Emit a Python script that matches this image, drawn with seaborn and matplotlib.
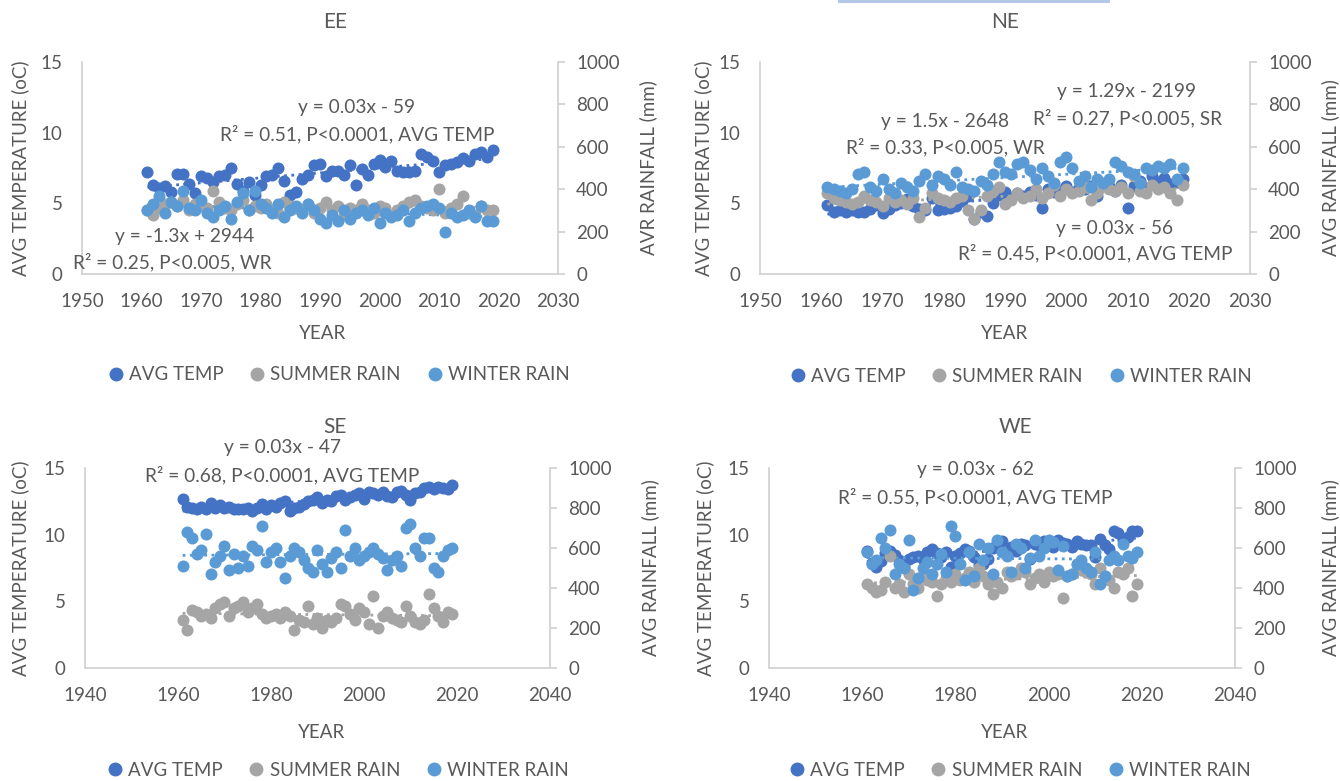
import numpy as np
import pandas as pd
import matplotlib
matplotlib.use("Agg")
import matplotlib.pyplot as plt
from matplotlib.lines import Line2D
from matplotlib.patches import Rectangle
import seaborn as sns

sns.set_theme(style="white")
plt.rcParams['font.family'] = ['Lato', 'DejaVu Sans']

years = list(range(1961, 2020))

# ---------------- EE ----------------
ee_temp = [7.2, 6.3, 6.1, 6.2, 5.8, 7.1, 7.1, 6.4, 5.7, 6.9, 6.8, 6.5, 6.9, 7.0, 7.5, 6.4, 5.9, 6.5, 5.6, 6.3,
           6.9, 7.0, 7.5, 6.6, 5.6, 5.8, 6.7, 7.0, 7.7, 7.8, 6.9, 7.3, 7.3, 7.0, 7.7, 6.3, 7.4, 7.0, 7.8, 8.1,
           7.6, 8.0, 7.3, 7.2, 7.2, 7.3, 8.5, 8.3, 8.0, 7.2, 7.7, 7.8, 7.9, 8.2, 8.0, 8.5, 8.6, 8.3, 8.8]
ee_summer = [300, 280, 310, 330, 340, 320, 350, 300, 330, 320, 310, 390, 340, 310, 300, 330, 350, 300, 320, 310,
             330, 300, 290, 340, 320, 310, 300, 330, 290, 310, 340, 300, 320, 280, 310, 300, 330, 300, 290, 320,
             310, 280, 300, 320, 340, 350, 320, 310, 300, 400, 290, 310, 330, 370, 290, 280, 320, 300, 300]
ee_winter = [300, 330, 370, 290, 340, 320, 390, 310, 300, 350, 290, 270, 300, 320, 260, 340, 380, 300, 390, 330,
             310, 290, 330, 270, 300, 320, 290, 330, 300, 260, 240, 280, 250, 300, 260, 290, 300, 280, 310, 240,
             290, 270, 280, 300, 250, 290, 310, 320, 330, 310, 200, 290, 270, 280, 300, 270, 320, 250, 250]

# ---------------- NE ----------------
ne_temp = [4.9, 4.4, 4.5, 4.4, 4.5, 4.4, 4.4, 4.6, 4.9, 4.3, 4.6, 4.9, 5.0, 5.3, 4.8, 4.6, 4.5, 5.4, 4.5, 4.6,
           4.7, 4.8, 5.2, 5.5, 3.9, 4.4, 4.1, 5.0, 5.6, 5.8, 5.3, 5.7, 5.5, 5.8, 5.6, 4.7, 6.0, 5.8, 5.9, 6.2,
           5.8, 6.1, 6.0, 6.2, 5.5, 6.4, 6.2, 5.9, 6.3, 4.7, 6.2, 6.6, 6.1, 6.9, 6.5, 6.8, 6.4, 6.5, 6.7]
ne_summer = [380, 360, 350, 340, 330, 340, 370, 350, 340, 320, 360, 340, 350, 330, 360, 270, 310, 380, 360, 350,
             340, 360, 370, 300, 260, 300, 370, 390, 410, 330, 350, 380, 360, 370, 400, 360, 380, 420, 370, 400,
             380, 390, 410, 350, 380, 420, 400, 390, 410, 380, 460, 390, 380, 420, 400, 410, 380, 350, 420]
ne_winter = [410, 400, 390, 380, 400, 470, 480, 410, 390, 450, 400, 380, 430, 410, 390, 440, 470, 420, 460, 450,
             420, 480, 410, 400, 390, 440, 420, 470, 530, 480, 470, 520, 530, 490, 450, 500, 460, 430, 530, 550,
             500, 440, 460, 410, 450, 430, 450, 530, 510, 480, 470, 430, 500, 490, 510, 500, 520, 450, 500]

# ---------------- SE ----------------
se_temp = [12.7, 12.1, 12.0, 11.9, 12.1, 11.9, 12.4, 12.0, 12.2, 12.0, 12.1, 11.9, 11.9, 11.9, 12.0, 11.8, 12.0,
           12.3, 11.9, 12.2, 12.1, 12.4, 12.5, 11.8, 12.0, 12.1, 12.3, 12.5, 12.6, 12.8, 12.4, 12.6, 12.5, 12.9,
           13.0, 12.6, 12.8, 13.0, 13.1, 12.7, 13.2, 13.1, 13.0, 13.2, 12.9, 12.8, 13.2, 13.3, 13.0, 12.6, 13.1,
           13.2, 13.5, 13.6, 13.4, 13.6, 13.5, 13.4, 13.7]
se_summer = [240, 190, 290, 280, 260, 270, 250, 300, 320, 330, 260, 300, 310, 330, 280, 300, 320, 270, 250, 260,
             270, 250, 280, 260, 190, 240, 230, 310, 220, 250, 200, 240, 230, 250, 320, 310, 270, 240, 300, 280,
             220, 360, 200, 260, 280, 250, 240, 230, 310, 260, 230, 220, 240, 370, 300, 260, 230, 280, 270]
se_winter = [510, 680, 650, 570, 590, 670, 470, 530, 560, 610, 490, 570, 500, 560, 510, 610, 590, 710, 530, 580,
             600, 530, 450, 560, 600, 580, 540, 500, 480, 590, 520, 480, 550, 580, 500, 690, 560, 600, 540, 560,
             580, 600, 570, 550, 490, 540, 560, 510, 700, 720, 600, 560, 650, 650, 500, 480, 560, 590, 600]

# ---------------- WE ----------------
we_temp = [8.8, 7.9, 7.6, 8.0, 8.6, 8.8, 8.5, 8.1, 7.6, 8.2, 8.3, 8.4, 8.2, 8.7, 8.9, 8.6, 8.3, 8.7, 7.6, 8.4,
           8.6, 8.9, 8.8, 8.3, 7.7, 7.8, 8.2, 9.0, 9.4, 9.5, 8.5, 9.1, 8.8, 9.3, 9.2, 8.2, 9.3, 9.2, 9.5, 9.4,
           9.1, 9.6, 9.4, 9.3, 9.1, 9.5, 9.3, 9.2, 9.2, 8.3, 9.7, 9.2, 8.9, 10.3, 10.1, 9.6, 9.8, 10.3, 10.3]
we_summer = [420, 400, 380, 390, 430, 560, 400, 420, 380, 470, 420, 400, 460, 440, 430, 360, 420, 450, 430, 470,
             440, 450, 480, 430, 500, 460, 420, 370, 430, 400, 480, 460, 470, 500, 480, 420, 450, 470, 430, 480,
             460, 470, 350, 460, 470, 520, 490, 480, 470, 420, 500, 460, 440, 400, 480, 470, 500, 360, 420]
we_winter = [580, 520, 540, 650, 600, 690, 470, 520, 500, 640, 390, 450, 500, 530, 470, 520, 570, 480, 710, 660,
             520, 440, 580, 460, 620, 540, 600, 470, 640, 580, 560, 480, 620, 600, 500, 550, 640, 560, 600, 640,
             630, 490, 610, 460, 470, 520, 540, 500, 480, 580, 420, 460, 540, 560, 540, 620, 560, 550, 580]

series_labels = ["AVG TEMP", "SUMMER RAIN", "WINTER RAIN"]
C_TEMP = "#4472C4"
C_SUM = "#A5A5A5"
C_WIN = "#5B9BD5"
TXT = "#595959"
SPINE = "#D0D0D0"
FS = 13.5

W, H = 1340, 781
fig = plt.figure(figsize=(W / 100, H / 100), dpi=100)
fig.patch.set_facecolor("white")


def fx(x):
    return x / W


def fy(y):
    return 1 - y / H


def make_panel(name, box, xlim, xticks, temp, summer, winter, right_label, ann, title_xy, legend_xy,
               left_lab_x, right_lab_x, year_xy):
    x0, y0, x1, y1 = box
    ax = fig.add_axes([fx(x0), fy(y1), fx(x1 - x0), (y1 - y0) / H])
    ax2 = ax.twinx()
    df = pd.DataFrame({"year": years, "temp": temp, "summer": summer, "winter": winter})
    ms = 75
    sns.scatterplot(data=df, x="year", y="temp", ax=ax, color=C_TEMP, s=ms, linewidth=0, zorder=3)
    sns.regplot(data=df, x="year", y="temp", ax=ax, scatter=False, ci=None,
                line_kws=dict(color=C_TEMP, ls=(0, (1, 1.6)), lw=2.0))
    sns.scatterplot(data=df, x="year", y="summer", ax=ax2, color=C_SUM, s=ms, linewidth=0, zorder=3)
    sns.scatterplot(data=df, x="year", y="winter", ax=ax2, color=C_WIN, s=ms, linewidth=0, zorder=3)
    sns.regplot(data=df, x="year", y="summer", ax=ax2, scatter=False, ci=None,
                line_kws=dict(color=C_SUM, ls=(0, (1, 1.6)), lw=2.0))
    sns.regplot(data=df, x="year", y="winter", ax=ax2, scatter=False, ci=None,
                line_kws=dict(color=C_WIN, ls=(0, (1, 1.6)), lw=2.0))

    ax.set_xlim(*xlim)
    ax.set_xticks(xticks)
    ax.set_ylim(0, 15)
    ax.set_yticks([0, 5, 10, 15])
    ax2.set_ylim(0, 1000)
    ax2.set_yticks(range(0, 1001, 200))
    for a in (ax, ax2):
        a.set_xlabel("")
        a.set_ylabel("")
        a.set_facecolor("none")
        a.spines["top"].set_visible(False)
        for s in ("left", "right", "bottom"):
            a.spines[s].set_color(SPINE)
            a.spines[s].set_linewidth(1.2)
    ax.spines["right"].set_visible(False)
    ax2.spines["left"].set_visible(False)
    ax2.spines["bottom"].set_visible(False)
    ax.tick_params(axis="x", length=0, pad=14, labelsize=FS, labelcolor=TXT)
    ax.tick_params(axis="y", length=0, pad=14, labelsize=FS, labelcolor=TXT)
    ax2.tick_params(axis="y", length=5, width=1.2, color=SPINE, pad=8, labelsize=FS, labelcolor=TXT)

    fig.text(fx(title_xy[0]), fy(title_xy[1]), name, ha="center", va="center", fontsize=15, color=TXT)
    fig.text(fx(year_xy[0]), fy(year_xy[1]), "YEAR", ha="center", va="center", fontsize=FS, color=TXT)
    cy = (y0 + y1) / 2
    fig.text(fx(left_lab_x), fy(cy), "AVG TEMPERATURE (oC)", rotation=90, ha="center", va="center",
             fontsize=FS, color=TXT)
    fig.text(fx(right_lab_x), fy(cy), right_label, rotation=90, ha="center", va="center",
             fontsize=FS, color=TXT)
    for (tx, ty, t) in ann:
        fig.text(fx(tx), fy(ty), t, ha="center", va="center", fontsize=13.8, color=TXT)

    handles = [Line2D([], [], marker="o", ls="none", color=c, markersize=9)
               for c in (C_TEMP, C_SUM, C_WIN)]
    fig.legend(handles, series_labels, loc="center", bbox_to_anchor=(fx(legend_xy[0]), fy(legend_xy[1])),
               ncol=3, frameon=False, fontsize=FS, labelcolor=TXT, handletextpad=0.2,
               columnspacing=1.3, handlelength=1.0)


make_panel("EE", (82, 62, 558, 274), (1950, 2030), range(1950, 2031, 10),
           ee_temp, ee_summer, ee_winter, "AVR RAINFALL (mm)",
           [(357, 108, "y = 0.03x - 59"), (357, 134, "R² = 0.51, P<0.0001, AVG TEMP"),
            (185, 236, "y = -1.3x + 2944"), (172, 262, "R² = 0.25, P<0.005, WR")],
           (335, 22), (338, 375), 20, 648, (323, 333))

make_panel("NE", (760, 62, 1250, 274), (1950, 2030), range(1950, 2031, 10),
           ne_temp, ne_summer, ne_winter, "AVG RAINFALL (mm)",
           [(1127, 92, "y = 1.29x - 2199"), (1128, 118, "R² = 0.27, P<0.005, SR"),
            (945, 121, "y = 1.5x - 2648"), (945, 147, "R² = 0.33, P<0.005, WR"),
            (1115, 228, "y = 0.03x - 56"), (1095, 253, "R² = 0.45, P<0.0001, AVG TEMP")],
           (1005, 22), (1020, 376), 703, 1330, (1005, 333))

make_panel("SE", (85, 468, 550, 668), (1940, 2040), range(1940, 2041, 20),
           se_temp, se_summer, se_winter, "AVG RAINFALL (mm)",
           [(282, 448, "y = 0.03x - 47"), (282, 475, "R² = 0.68, P<0.0001, AVG TEMP")],
           (335, 427), (337, 770), 20, 650, (322, 733))

make_panel("WE", (769, 468, 1235, 668), (1940, 2040), range(1940, 2041, 20),
           we_temp, we_summer, we_winter, "AVG RAINFALL (mm)",
           [(975, 470, "y = 0.03x - 62"), (975, 497, "R² = 0.55, P<0.0001, AVG TEMP")],
           (1015, 427), (1019, 770), 705, 1330, (1005, 733))

fig.patches.append(Rectangle((fx(838), fy(3)), fx(1110 - 838), 3 / H, transform=fig.transFigure,
                             facecolor="#B4C7E7", edgecolor="none"))

fig.savefig("out.png", dpi=100, facecolor="white")
